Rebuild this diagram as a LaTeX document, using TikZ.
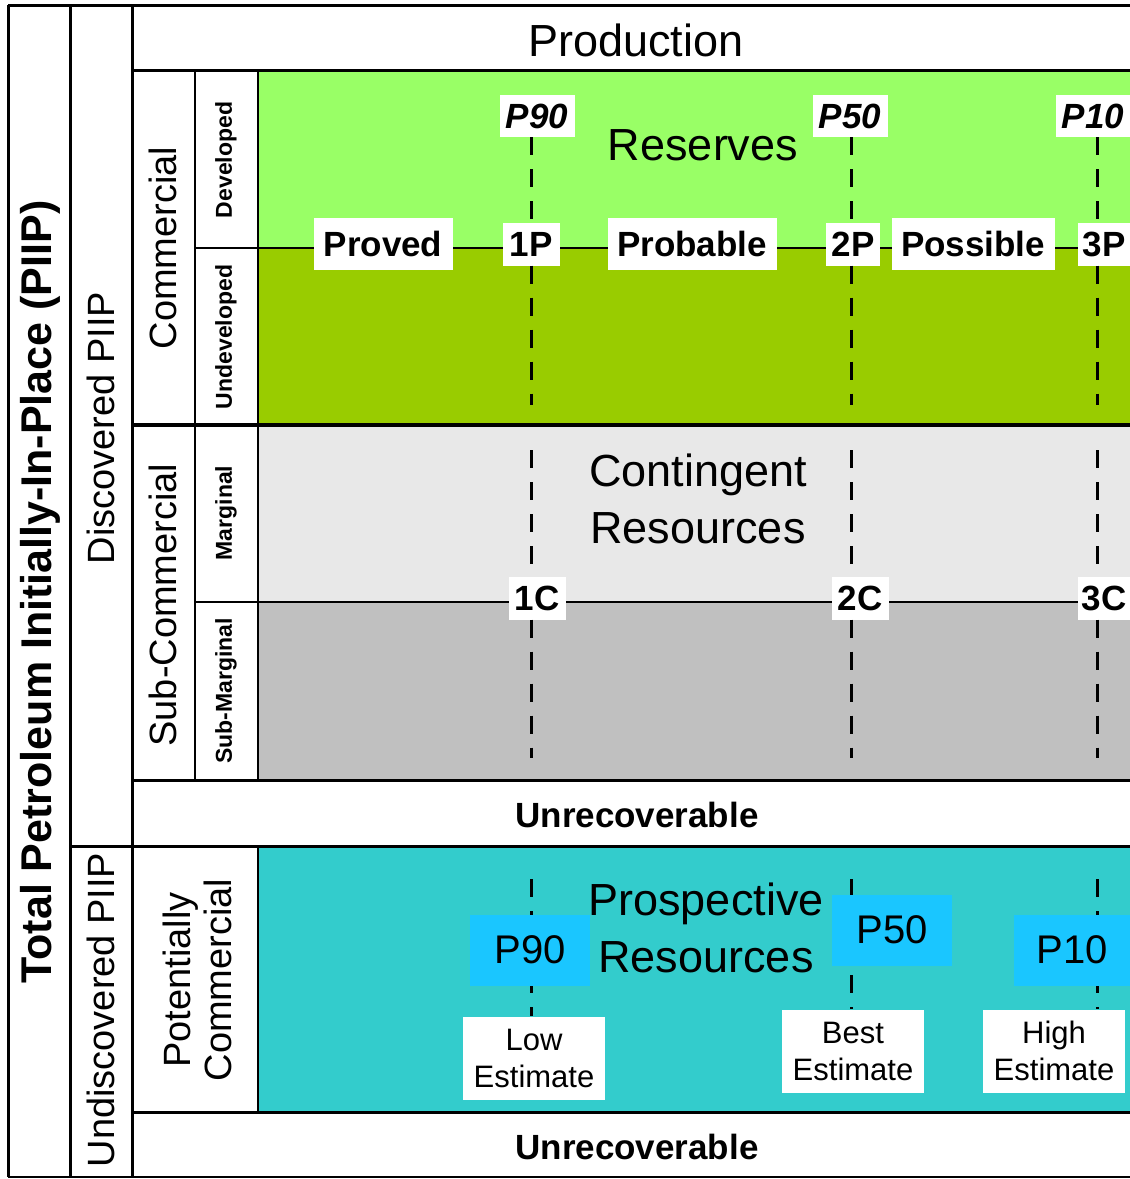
\documentclass[tikz,border=0pt]{standalone}
\usepackage{fontspec}
\setmainfont{Liberation Sans}
\newcommand\fsz[2]{\fontsize{#1}{#2}\selectfont}

\definecolor{resdev}{RGB}{153,255,102}
\definecolor{resund}{RGB}{153,204,0}
\definecolor{conmarg}{RGB}{232,232,232}
\definecolor{consub}{RGB}{192,192,192}
\definecolor{prosp}{RGB}{51,204,204}
\definecolor{pblue}{RGB}{26,198,255}

\tikzset{
  heavy/.style={line width=3pt},
  light/.style={line width=2pt},
  cut/.style={line width=3pt, dash pattern=on 18pt off 14pt},
  big/.style={font=\fsz{45}{57}, align=center},
  side/.style={rotate=90, font=\fsz{38}{41}, align=center},
  subside/.style={rotate=90, font=\bfseries\fsz{23}{28}},
  tag/.style={fill=white, font=\bfseries\fsz{35}{42}, inner sep=0pt, minimum height=43},
  widetag/.style={tag, minimum height=52},
  pval/.style={fill=white, font=\bfseries\itshape\fsz{35}{42}, inner sep=0pt,
    minimum width=75, minimum height=42},
  estim/.style={fill=white, align=center, font=\fsz{31}{37}, inner sep=0pt,
    minimum width=142, minimum height=83},
  pbox/.style={fill=pblue, font=\fsz{40}{48}, inner sep=0pt,
    minimum width=120, minimum height=71},
}

\begin{document}
\begin{tikzpicture}[x=1pt, y=-1pt]
  \useasboundingbox (0,0) rectangle (1130,1179);
  \fill[white] (0,0) rectangle (1130,1179);

  % class bands
  \fill[resdev] (258,70) rectangle (1130,248);
  \fill[resund] (258,248) rectangle (1130,425);
  \fill[conmarg] (258,425) rectangle (1130,602);
  \fill[consub] (258,602) rectangle (1130,780);
  \fill[prosp] (258,847) rectangle (1130,1112);

  % table rules
  \draw[heavy] (8,5) -- (1130,5);
  \draw[light] (8,1177) -- (1130,1177);
  \draw[heavy] (8,5) -- (8,1177);
  \draw[heavy] (70,5) -- (70,1177);
  \draw[heavy] (132,5) -- (132,1177);
  \draw[heavy] (132,70) -- (1130,70);
  \draw[line width=4pt] (132,425) -- (1130,425);
  \draw[heavy] (132,780) -- (1130,780);
  \draw[heavy] (70,846) -- (1130,846);
  \draw[heavy] (132,1112) -- (1130,1112);
  \draw[light] (195,70) -- (195,780);
  \draw[light] (258,70) -- (258,780);
  \draw[light] (258,847) -- (258,1112);
  \draw[light] (195,248) -- (1130,248);
  \draw[light] (195,602) -- (1130,602);

  % cut-off columns and band ends
  \coordinate (q1) at (531,0);
  \coordinate (q2) at (851,0);
  \coordinate (q3) at (1097,0);
  \coordinate (resbot) at (0,405);
  \coordinate (contop) at (0,450);
  \coordinate (conbot) at (0,758);
  \coordinate (protop) at (0,879);

  % row and column headings
  \node[big] (prod) at (636,40) {Production};
  \node[side, font=\bfseries\fsz{43}{50}] (piip) at (40,592) {Total Petroleum Initially-In-Place (PIIP)};
  \node[side] (disc) at (101,428) {Discovered PIIP};
  \node[side] (undisc) at (101,1010) {Undiscovered PIIP};
  \node[side] (comm) at (163,248) {Commercial};
  \node[side] (subcomm) at (163,605) {Sub-Commercial};
  \node[subside] (dev) at (226,160) {Developed};
  \node[subside] (undev) at (226,337) {Undeveloped};
  \node[subside] (marg) at (226,513) {Marginal};
  \node[subside] (submarg) at (226,691) {Sub-Marginal};
  \node[side] (potcomm) at (197,980) {Potentially\\Commercial};
  \node[tag, fill=none] (unrec1) at (637,815) {Unrecoverable};
  \node[tag, fill=none] (unrec2) at (637,1147) {Unrecoverable};

  % reserves
  \node[big] (res) at (703,145) {Reserves};
  \node[pval] (p90r) at (537,116) {P90};
  \node[pval] (p50r) at (850,116) {P50};
  \node[pval] (p10r) at (1093,116) {P10};
  \node[widetag, minimum width=139] (proved) at (383,244) {Proved};
  \node[tag, minimum width=57] (onep) at (531,244) {1P};
  \node[widetag, minimum width=169] (probable) at (692,244) {Probable};
  \node[tag, minimum width=54] (twop) at (853,244) {2P};
  \node[widetag, minimum width=163] (possible) at (973,244) {Possible};
  \node[tag, minimum width=52] (threep) at (1104,244) {3P};
  \draw[cut] (p90r.south -| q1) -- (onep.north -| q1);
  \draw[cut] (onep.south -| q1) -- (resbot -| q1);
  \draw[cut] (p50r.south -| q2) -- (twop.north -| q2);
  \draw[cut] (twop.south -| q2) -- (resbot -| q2);
  \draw[cut] (p10r.south -| q3) -- (threep.north -| q3);
  \draw[cut] (threep.south -| q3) -- (resbot -| q3);

  % contingent resources
  \node[big] (cont) at (698,499) {Contingent\\Resources};
  \node[tag, minimum width=57] (onec) at (537,598) {1C};
  \node[tag, minimum width=57] (twoc) at (860,598) {2C};
  \node[tag, minimum width=53] (threec) at (1104,598) {3C};
  \draw[cut] (contop -| q1) -- (onec.north -| q1);
  \draw[cut] (onec.south -| q1) -- (conbot -| q1);
  \draw[cut] (contop -| q2) -- (twoc.north -| q2);
  \draw[cut] (twoc.south -| q2) -- (conbot -| q2);
  \draw[cut] (contop -| q3) -- (threec.north -| q3);
  \draw[cut] (threec.south -| q3) -- (conbot -| q3);

  % prospective resources
  \node[big] (pros) at (706,928) {Prospective\\Resources};
  \node[estim] (low) at (534,1058) {Low\\Estimate};
  \node[estim] (best) at (853,1051) {Best\\Estimate};
  \node[estim] (high) at (1054,1051) {High\\Estimate};
  \draw[cut] (protop -| q1) -- (low.north -| q1);
  \draw[cut] (protop -| q2) -- (best.north -| q2);
  \draw[cut] (protop -| q3) -- (high.north -| q3);
  \node[pbox] (bp90) at (530,950) {P90};
  \node[pbox] (bp50) at (892,930) {P50};
  \node[pbox, minimum width=116] (bp10) at (1072,950) {P10};
\end{tikzpicture}
\end{document}
